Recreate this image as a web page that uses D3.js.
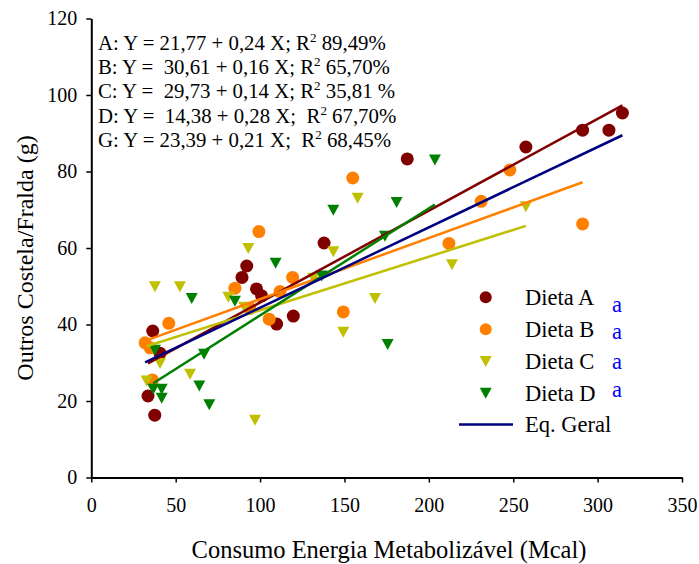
<!DOCTYPE html>
<html>
<head>
<meta charset="utf-8">
<script src="https://cdn.jsdelivr.net/npm/d3@7"></script>
<style>
  html, body { margin: 0; padding: 0; background: #fff; }
  svg { display: block; }
  text { font-family: "Liberation Serif", "Times New Roman", serif; fill: #000; }
</style>
</head>
<body>
<svg id="chart" width="699" height="564"></svg>
<script>
// Consumo de energia metabolizável (Mcal) x Outros Costela/Fralda (g), por dieta
const dietaA_x = [33.6, 36.4, 37.6, 40.7, 89.3, 92.1, 97.9, 100.9, 109.8, 119.7, 137.9, 187.2, 257.5, 291.1, 306.7, 314.7];
const dietaA_y = [21.3, 38.3, 16.3, 32.5, 52.3, 55.3, 49.3, 47.5, 40.1, 42.2, 61.3, 83.3, 86.4, 90.8, 90.8, 95.3];

const dietaB_x = [31.9, 34.8, 36.2, 45.9, 85.1, 94.0, 99.3, 105.4, 111.8, 119.3, 149.3, 154.9, 211.9, 231.0, 248.0, 291.1];
const dietaB_y = [35.2, 33.9, 25.5, 40.3, 49.5, 44.2, 64.3, 41.4, 48.6, 52.3, 43.3, 78.3, 61.2, 72.2, 80.4, 66.3];

const dietaC_x = [32.8, 37.7, 40.7, 52.5, 58.5, 81.2, 90.6, 93.0, 97.0, 131.5, 143.4, 149.3, 157.8, 168.1, 213.7, 257.5];
const dietaC_y = [25.2, 49.9, 29.8, 49.9, 27.0, 47.1, 44.5, 59.9, 15.0, 52.1, 59.0, 38.0, 73.0, 46.8, 55.6, 70.8];

const dietaD_x = [36.7, 37.7, 41.7, 41.7, 59.5, 64.0, 66.8, 69.9, 85.1, 109.2, 136.5, 143.4, 174.0, 175.6, 180.9, 203.6];
const dietaD_y = [23.1, 33.3, 23.1, 20.7, 46.8, 23.9, 32.2, 19.0, 46.1, 56.0, 52.7, 69.9, 63.1, 34.8, 71.9, 83.0];

// Equações de regressão: intercepto e coeficiente angular
const seriesNames = ["Dieta A", "Dieta B", "Dieta C", "Dieta D"];
const intercepts = [21.77, 30.61, 29.73, 14.38];
const slopes = [0.24, 0.16, 0.14, 0.28];
const geralIntercept = 23.39;
const geralSlope = 0.21;

const eqPrefixes = ["A: Y = 21,77 + 0,24 X; R", "B: Y =  30,61 + 0,16 X; R", "C: Y =  29,73 + 0,14 X; R", "D: Y =  14,38 + 0,28 X;  R", "G: Y = 23,39 + 0,21 X;  R"];
const eqR2 = ["89,49%", "65,70%", "35,81 %", "67,70%", "68,45%"];
const letterLabels = ["a", "a", "a", "a"];

const xTicks = [0, 50, 100, 150, 200, 250, 300, 350];
const yTicks = [0, 20, 40, 60, 80, 100, 120];

const colors = ["#800000", "#FF8000", "#C0C000", "#008000"];
const geralColor = "#000080";
const shapes = ["circle", "circle", "triangle", "triangle"];

const xs = [dietaA_x, dietaB_x, dietaC_x, dietaD_x];
const ys = [dietaA_y, dietaB_y, dietaC_y, dietaD_y];

const svg = d3.select("#chart");

const x = d3.scaleLinear().domain([0, 350]).range([91.3, 682]);
const y = d3.scaleLinear().domain([0, 120]).range([477.5, 18.5]);

// Eixos
const yAxis = svg.append("g")
  .attr("transform", `translate(${x(0)},0)`)
  .call(d3.axisLeft(y).tickValues(yTicks).tickSize(5).tickSizeOuter(0).tickPadding(9));
const xAxis = svg.append("g")
  .attr("transform", `translate(0,${y(0)})`)
  .call(d3.axisBottom(x).tickValues(xTicks).tickSize(5).tickSizeOuter(0).tickPadding(15));

[yAxis, xAxis].forEach(g => {
  g.select(".domain").attr("stroke", "#000").attr("stroke-width", 2);
  g.selectAll(".tick line").attr("stroke", "#000").attr("stroke-width", 1.5);
  g.selectAll(".tick text")
    .attr("font-family", "Liberation Serif, Times New Roman, serif")
    .attr("font-size", 20)
    .attr("fill", "#000");
});

// Títulos dos eixos
svg.append("text")
  .attr("x", 389).attr("y", 558)
  .attr("text-anchor", "middle")
  .attr("font-size", 24.5)
  .text("Consumo Energia Metabolizável (Mcal)");

svg.append("text")
  .attr("transform", "translate(33,258) rotate(-90)")
  .attr("text-anchor", "middle")
  .attr("font-size", 24)
  .text("Outros Costela/Fralda (g)");

// Marcadores
const triPath = "M-6,-5.5L6,-5.5L0,5.5Z";
function drawMarker(g, shape, color, cx, cy, r) {
  if (shape === "circle") {
    g.append("circle").attr("cx", cx).attr("cy", cy).attr("r", r).attr("fill", color);
  } else {
    g.append("path").attr("d", triPath)
      .attr("transform", `translate(${cx},${cy})`).attr("fill", color);
  }
}

const pts = svg.append("g");
xs.forEach((xv, i) => {
  xv.forEach((v, j) => drawMarker(pts, shapes[i], colors[i], x(v), y(ys[i][j]), 6.5));
});

// Linhas de tendência
const lines = svg.append("g").attr("fill", "none").attr("stroke-width", 2.5);
xs.forEach((xv, i) => {
  const [x0, x1] = d3.extent(xv);
  lines.append("line")
    .attr("x1", x(x0)).attr("y1", y(intercepts[i] + slopes[i] * x0))
    .attr("x2", x(x1)).attr("y2", y(intercepts[i] + slopes[i] * x1))
    .attr("stroke", colors[i]);
});
const allX = xs.flat();
const [gx0, gx1] = d3.extent(allX);
lines.append("line")
  .attr("x1", x(gx0)).attr("y1", y(geralIntercept + geralSlope * gx0))
  .attr("x2", x(gx1)).attr("y2", y(geralIntercept + geralSlope * gx1))
  .attr("stroke", geralColor);

// Equações
const eq = svg.append("g");
eqPrefixes.forEach((p, i) => {
  const t = eq.append("text")
    .attr("x", 98).attr("y", 50 + i * 24.2)
    .attr("font-size", 20.8)
    .style("white-space", "pre");
  t.append("tspan").text(p);
  t.append("tspan").attr("font-size", 13).attr("dy", -8).text("2");
  t.append("tspan").attr("dy", 8).text(" " + eqR2[i]);
});

// Legenda
const legend = svg.append("g");
const rowY = [297.3, 329.3, 361.5, 393.3];
seriesNames.forEach((name, i) => {
  drawMarker(legend, shapes[i], colors[i], 485.7, rowY[i], 6);
  legend.append("text")
    .attr("x", 525).attr("y", rowY[i] + 7.5)
    .attr("font-size", 22.5)
    .text(name);
});
legend.append("line")
  .attr("x1", 459).attr("x2", 513)
  .attr("y1", 424.5).attr("y2", 424.5)
  .attr("stroke", geralColor).attr("stroke-width", 2.5);
legend.append("text")
  .attr("x", 525).attr("y", 432)
  .attr("font-size", 22.5)
  .text("Eq. Geral");

// Letras de comparação entre dietas
const letterBase = [312, 338.5, 368.5, 396.5];
letterLabels.forEach((l, i) => {
  legend.append("text")
    .attr("x", 612).attr("y", letterBase[i])
    .attr("font-family", "DejaVu Sans, Verdana, sans-serif")
    .attr("font-size", 22.5)
    .style("fill", "#0000FF")
    .text(l);
});
</script>
</body>
</html>
